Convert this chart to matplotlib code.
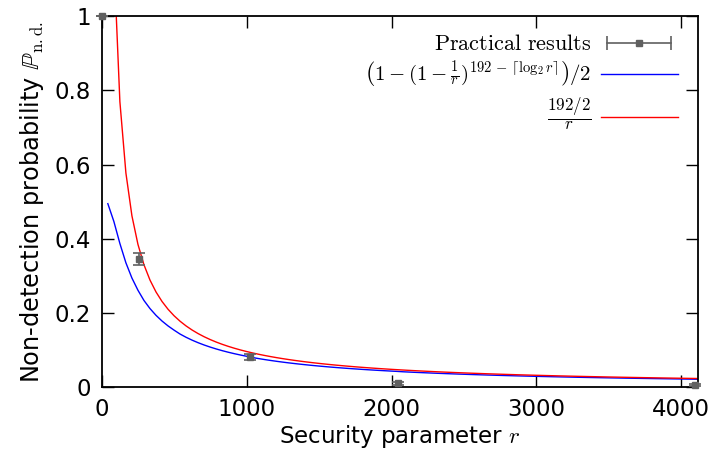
import numpy as np
import matplotlib
matplotlib.use("Agg")
import matplotlib.pyplot as plt
from matplotlib.lines import Line2D
from matplotlib.legend_handler import HandlerLine2D, HandlerTuple

plt.rcParams["font.family"] = "DejaVu Sans"
plt.rcParams["mathtext.fontset"] = "cm"

# =====================
# DATA
# =====================
# measured non-detection rates (read off the plot)
r_meas = [1, 256, 1024, 2048, 4096]
p_meas = [1.0, 0.346, 0.081, 0.011, 0.005]
p_err = [0.0, 0.016, 0.008, 0.004, 0.003]

# theoretical curves, as given in the legend
N_BITS = 192
x_max = 4116
n_samples = 100

r = np.linspace(0, x_max, n_samples)[1:]
p_exact = (1 - (1 - 1 / r) ** (N_BITS - np.ceil(np.log2(r)))) / 2
p_approx = (N_BITS / 2) / r

x_ticks = [0, 1000, 2000, 3000, 4000]
y_ticks = [0, 0.2, 0.4, 0.6, 0.8, 1]
y_ticklabels = ["0", "0.2", "0.4", "0.6", "0.8", "1"]

# =====================
# PLOT
# =====================
fig = plt.figure(figsize=(7.17, 4.62), dpi=100)
ax = fig.add_axes([0.142, 0.162, 0.8315, 0.803])

grey = "#606060"
ax.errorbar(r_meas, p_meas, yerr=p_err, fmt="s", color=grey, ms=5,
            capsize=4.5, elinewidth=1.2, capthick=1.2, clip_on=False, zorder=3)
ax.plot(r, p_exact, color="blue", lw=1)
ax.plot(r, p_approx, color="red", lw=1)

ax.set_xlim(0, x_max)
ax.set_ylim(0, 1)
ax.set_xticks(x_ticks)
ax.set_yticks(y_ticks)
ax.set_yticklabels(y_ticklabels)
ax.tick_params(direction="in", length=8.5, width=1, top=True, right=True,
               labelsize=16.5, pad=8)
for s in ax.spines.values():
    s.set_linewidth(1.3)

ax.set_xlabel("Security parameter $r$", fontsize=16.5, labelpad=1)
ax.set_ylabel(r"Non-detection probability $\mathbb{P}_{\mathrm{n.d.}}$",
              fontsize=17.3, labelpad=6)

# legend in gnuplot style: text on the left, sample on the right
bar_h = Line2D([], [], color=grey, lw=1.2, marker="|", ms=10, mew=1.2)
dot_h = Line2D([], [], color=grey, lw=0, marker="s", ms=5)
blue_h = Line2D([], [], color="blue", lw=1)
red_h = Line2D([], [], color="red", lw=1)
leg = ax.legend(
    [(bar_h, dot_h), blue_h, red_h],
    [r"$\mathrm{Practical\ results}$",
     r"$\left(1-(1-\frac{1}{r})^{192\,-\,\lceil\log_2 r\rceil}\right)/2$",
     r"$\frac{192/2}{r}$"],
    handler_map={bar_h: HandlerLine2D(numpoints=2),
                 tuple: HandlerTuple(ndivide=1)},
    loc="upper right", bbox_to_anchor=(0.987, 0.986), markerfirst=False,
    frameon=False, fontsize=15, handlelength=3.7, handletextpad=0.45,
    labelspacing=0.3, borderaxespad=0.2,
)
leg.get_texts()[0].set_fontsize(16)
leg.get_texts()[2].set_fontsize(17.5)

fig.savefig("out.png", dpi=100)
